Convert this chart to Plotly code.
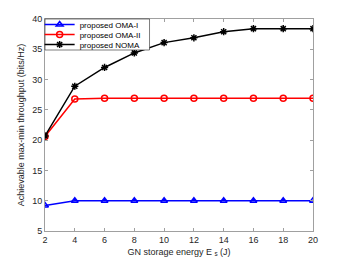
import plotly.graph_objects as go

energy = [2, 4, 6, 8, 10, 12, 14, 16, 18, 20]
oma1 = [9.2, 10.0, 10.0, 10.0, 10.0, 10.0, 10.0, 10.0, 10.0, 10.0]
oma2 = [20.6, 26.8, 26.9, 26.9, 26.9, 26.9, 26.9, 26.9, 26.9, 26.9]
noma = [20.7, 28.9, 32.0, 34.4, 36.1, 36.9, 37.9, 38.4, 38.4, 38.4]

names = ["proposed OMA-I", "proposed OMA-II", "proposed NOMA"]
colors = ["#0000ff", "#ff0000", "#000000"]
symbols = ["triangle-up-open", "circle-open", "asterisk-open"]
legend_ids = ["legend", "legend2", "legend3"]

fig = go.Figure()
for name, ys, c, s, lg in zip(names, [oma1, oma2, noma], colors, symbols, legend_ids):
    fig.add_trace(go.Scatter(
        x=energy, y=ys, name=name, mode="lines+markers", legend=lg,
        line=dict(color=c, width=1.5),
        marker=dict(symbol=s, size=6, color=c, line=dict(color=c, width=1.5)),
    ))

axis_common = dict(
    showline=True, linecolor="#a0a0a0", linewidth=1, mirror="ticks",
    ticks="inside", ticklen=3, tickcolor="#a0a0a0",
    showgrid=False, zeroline=False, automargin=False,
    tickfont=dict(size=9, color="#262626"),
)
fig.update_xaxes(range=[2, 20], tickvals=energy,
                 title=dict(text="GN storage energy E <sub>s</sub> (J)", font=dict(size=9, color="#262626"), standoff=4),
                 **axis_common)
fig.update_yaxes(range=[5, 40], tickvals=[5, 10, 15, 20, 25, 30, 35, 40],
                 title=dict(text="Achievable max-min throughput (bits/Hz)", font=dict(size=9, color="#262626"), standoff=6),
                 **axis_common)

plot_h = 252 - 11 - 29
legend_layout = {}
for i, lg in enumerate(legend_ids):
    legend_layout[lg] = dict(
        x=-0.02, y=1 - (5.5 + 10 * i) / plot_h, xanchor="left", yanchor="middle",
        bgcolor="rgba(255,255,255,0)", borderwidth=0,
        font=dict(size=8, color="#000000"), itemwidth=30,
    )

# the page body adds an 8px offset, so the figure is sized to fit the window
fig.update_layout(
    width=338, height=252,
    margin=dict(l=37, r=33, t=11, b=29, autoexpand=False),
    paper_bgcolor="white", plot_bgcolor="white",
    font=dict(family="Liberation Sans, Arial, sans-serif", color="#262626"),
    showlegend=True,
    **legend_layout,
)

# legend frame
fig.add_shape(type="rect", xref="paper", yref="paper",
              x0=0, x1=0.39, y0=1 - 31 / plot_h, y1=1,
              fillcolor="white", line=dict(color="#262626", width=0.6), layer="above")

fig.write_html("out.html")
